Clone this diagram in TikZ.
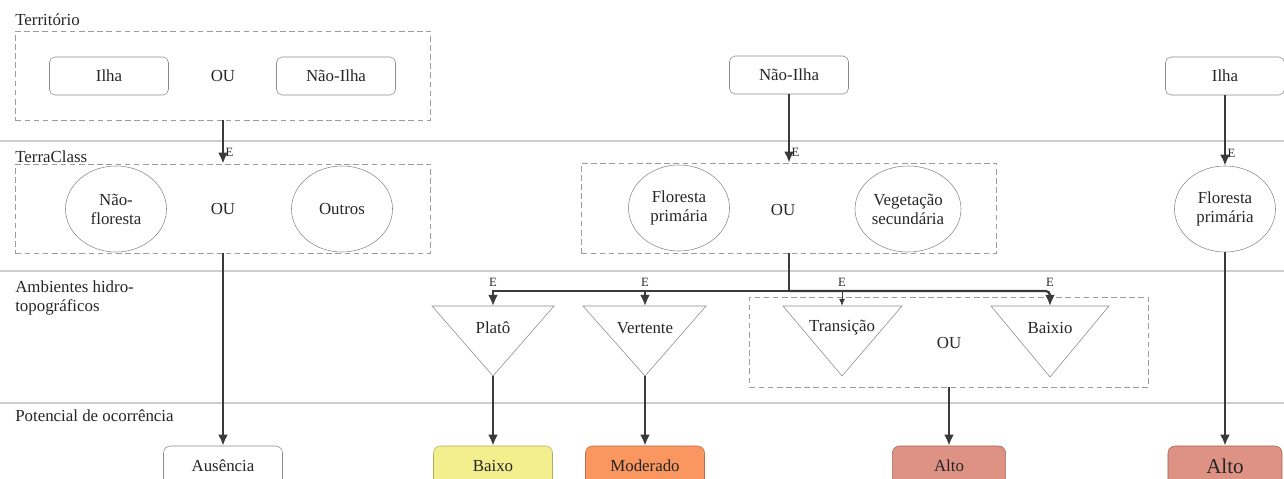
\documentclass[tikz,border=0pt]{standalone}
\usepackage{fontspec}
\setmainfont{Liberation Serif}
\usetikzlibrary{arrows.meta,positioning,shapes.geometric}
\definecolor{ink}{HTML}{262626}
\definecolor{edge}{HTML}{3A3A3A}
\definecolor{frame}{HTML}{8A8A8A}
\definecolor{lane}{HTML}{CFCFCF}
\definecolor{lowfill}{HTML}{F3EF8F}
\definecolor{lowdraw}{HTML}{B3AE62}
\definecolor{modfill}{HTML}{FA9660}
\definecolor{moddraw}{HTML}{BE6E47}
\definecolor{highfill}{HTML}{DD9284}
\definecolor{highdraw}{HTML}{A3665B}
\tikzset{
  box/.style={
    draw=frame, rounded corners=4pt, text=ink,
    minimum width=2.975cm, minimum height=0.95cm,
    font=\fontsize{12}{14}\selectfont
  },
  blob/.style={
    ellipse, draw=frame, text=ink, align=center,
    minimum width=2.525cm, minimum height=2.15cm, inner sep=1pt,
    font=\fontsize{12}{13.5}\selectfont
  },
  group/.style={draw=frame!85, dashed, dash pattern=on 4pt off 2.5pt},
  tri/.style={draw=frame},
  lanetext/.style={text=ink, font=\fontsize{12}{13.5}\selectfont, align=left, inner sep=0pt},
  lanerule/.style={draw=lane, line width=0.8pt},
  plain/.style={text=ink, font=\fontsize{12}{14}\selectfont, inner sep=0pt},
  tag/.style={text=ink, font=\fontsize{9}{10}\selectfont, inner sep=1pt},
  arrow/.style={-{Latex[length=2.8mm,width=2.5mm]}, line width=1.6pt, draw=edge},
  flow/.style={line width=1.6pt, draw=edge},
  thinarr/.style={-{Latex[length=1.8mm,width=1.5mm]}, line width=0.7pt, draw=edge},
  result/.style={box, minimum height=1cm, rounded corners=5pt}
}
\begin{document}
\begin{tikzpicture}[x=0.025cm, y=-0.025cm]
  \useasboundingbox (0,0) rectangle (1284,479);
  % faixas
  \draw[lanerule] (0,141) -- (1284,141);
  \draw[lanerule] (0,271) -- (1284,271);
  \draw[lanerule] (0,403) -- (1284,403);
  \node[lanetext, anchor=west] (lt1) at (15,20) {Território};
  \node[lanetext, anchor=west] (lt2) at (15,157) {TerraClass};
  \node[lanetext, anchor=north west] (lt3) at (15,281) {Ambientes hidro-\\topográficos};
  \node[lanetext, anchor=west] (lt4) at (15,416) {Potencial de ocorrência};

  % coluna esquerda
  \node[group, minimum width=10.375cm, minimum height=2.225cm] (terr) at (223,75.5) {};
  \node[box] (ilha) at (109,76) {Ilha};
  \node[plain] (ou1) at (223,76) {OU};
  \node[box] (nilha) at (336,76) {Não-Ilha};
  \node[group, minimum width=10.375cm, minimum height=2.225cm] (tcl) at (223,208.5) {};
  \node[blob] (nflor) at (116,209) {Não-\\floresta};
  \node[plain] (ou2) at (223,209) {OU};
  \node[blob] (outros) at (342,209) {Outros};
  \node[result] (aus) at (223,466) {Ausência};
  \draw[arrow] (terr.south) -- node[tag, pos=0.75, right] {E} (tcl.north);
  \draw[arrow] (tcl.south) -- (aus.north);

  % coluna central
  \node[box] (nilha2) at (789,75) {Não-Ilha};
  \node[group, minimum width=10.375cm, minimum height=2.25cm] (tcm) at (789,208) {};
  \node[blob] (fprim) at (679,208) {Floresta\\primária};
  \node[plain] (ou3) at (783,210) {OU};
  \node[blob] (vsec) at (908,209) {Vegetação\\secundária};
  \draw[arrow] (nilha2.south) -- node[tag, pos=0.85, right] {E} (tcm.north);

  % ambientes
  \node[group, minimum width=9.975cm, minimum height=2.25cm] (amb) at (949,342) {};
  \draw[tri] (432,306) -- (554,306) -- (493,376) -- cycle;
  \draw[tri] (583,306) -- (706,306) -- (645,376) -- cycle;
  \draw[tri] (783,306) -- (902,306) -- (842,376) -- cycle;
  \draw[tri] (991,306) -- (1109,306) -- (1050,377) -- cycle;
  \coordinate (plato-top) at (493,306);
  \coordinate (plato-tip) at (493,376);
  \coordinate (vert-top) at (645,306);
  \coordinate (vert-tip) at (645,376);
  \coordinate (trans-top) at (842,306);
  \coordinate (baixio-top) at (1050,306);
  \coordinate (split) at (789,291);
  \node[plain] (plato) at (493,328) {Platô};
  \node[plain] (vert) at (645,328) {Vertente};
  \node[plain] (trans) at (842,328) {Transição};
  \node[plain] (baixio) at (1050,328) {Baixio};
  \node[plain] (ou4) at (949,343) {OU};
  \draw[flow] (tcm.south) -- (split);
  \draw[arrow] (split) -| (plato-top);
  \draw[arrow] (split -| vert-top) -- (vert-top);
  \draw[thinarr] (split -| trans-top) -- (trans-top);
  \draw[arrow, rounded corners=3pt] (split) -| (baixio-top);
  \node[tag] (e1) at (493,282) {E};
  \node[tag] (e2) at (645,282) {E};
  \node[tag] (e3) at (842,282) {E};
  \node[tag] (e4) at (1050,282) {E};

  % resultados
  \node[result, fill=lowfill, draw=lowdraw] (baixo) at (493,466) {Baixo};
  \node[result, fill=modfill, draw=moddraw] (mod) at (645,466) {Moderado};
  \node[result, fill=highfill, draw=highdraw, minimum width=2.83cm] (alto) at (949,466) {Alto};
  \draw[arrow] (plato-tip) -- (baixo.north);
  \draw[arrow] (vert-tip) -- (mod.north);
  \draw[arrow] (amb.south) -- (alto.north);

  % coluna direita
  \node[box] (ilha2) at (1225,76) {Ilha};
  \node[blob] (fprim2) at (1225,209) {Floresta\\primária};
  \node[result, fill=highfill, draw=highdraw, minimum width=2.85cm,
    font=\fontsize{15}{17}\selectfont] (alto2) at (1225,466) {Alto};
  \draw[arrow] (ilha2.south) -- node[tag, pos=0.82, right] {E} (fprim2.north);
  \draw[arrow] (fprim2.south) -- (alto2.north);
\end{tikzpicture}
\end{document}
